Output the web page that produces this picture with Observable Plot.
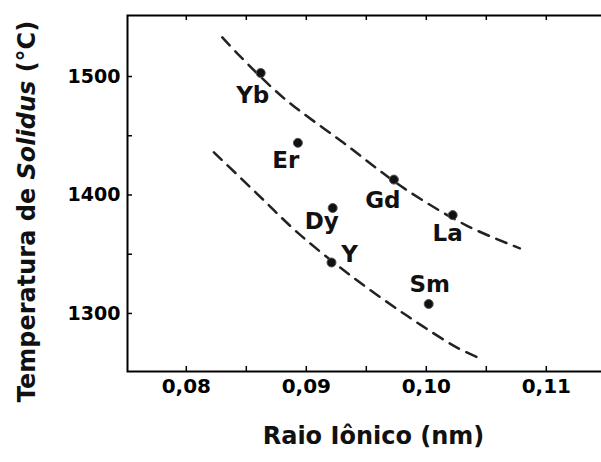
<!DOCTYPE html>
<html>
<head>
<meta charset="utf-8">
<script src="https://cdn.jsdelivr.net/npm/d3@7"></script>
<script src="https://cdn.jsdelivr.net/npm/@observablehq/plot@0.6"></script>
<style>
  html, body { margin: 0; padding: 0; background: #fff; }
  #chart { width: 601px; height: 462px; overflow: hidden; }
</style>
</head>
<body>
<div id="chart"></div>
<script>
// ---- data ----
const elements = ["Yb", "Er", "Gd", "La", "Dy", "Y", "Sm"];
const ionicRadius = [0.0862, 0.0893, 0.0973, 0.1022, 0.0922, 0.0921, 0.1002];
const solidusTemp = [1503, 1444, 1413, 1383, 1389, 1343, 1308];

const upperTrendX = [0.0830, 0.0843, 0.0881, 0.0931, 0.0981, 0.1034, 0.1078];
const upperTrendY = [1533, 1519, 1482, 1444, 1406, 1374, 1355];
const lowerTrendX = [0.0823, 0.0859, 0.0893, 0.0937, 0.0984, 0.1026, 0.1045];
const lowerTrendY = [1436, 1401, 1368, 1332, 1298, 1271, 1262];

const xTickLabels = [0.08, 0.09, 0.10, 0.11];
const xTicksAll = [0.08, 0.085, 0.09, 0.095, 0.10, 0.105, 0.11];
const yTickLabels = [1300, 1400, 1500];
const yTicksAll = [1300, 1350, 1400, 1450, 1500];

const xTitle = "Raio Iônico (nm)";
const yTitle = "Temperatura de Solidus (°C)";

// ---- layout (not data) ----
const labelOffsets = {
  Yb: [-8, 23], Er: [-12, 18], Gd: [-11, 21], La: [-5, 19],
  Dy: [-11, 14], Y: [18, -8], Sm: [1, -19]
};

const points = elements.map((e, i) => ({name: e, x: ionicRadius[i], y: solidusTemp[i]}));
const upper = upperTrendX.map((x, i) => ({x, y: upperTrendY[i]}));
const lower = lowerTrendX.map((x, i) => ({x, y: lowerTrendY[i]}));

const W = 601, H = 462, mL = 127, mR = 0, mT = 15, mB = 91;
const plotW = W - mL - mR, plotH = H - mT - mB;
const FONT = "'DejaVu Sans', sans-serif";

const chart = Plot.plot({
  width: W, height: H,
  marginLeft: mL, marginRight: mR, marginTop: mT, marginBottom: mB,
  x: {domain: [0.0751, 0.1146]},
  y: {domain: [1251, 1551.5]},
  style: {fontFamily: FONT, fontWeight: "bold", background: "white", color: "black", overflow: "hidden"},
  marks: [
    Plot.frame({stroke: "black", strokeWidth: 2, insetRight: -10}),
    Plot.tickX(xTicksAll, {x: d => d, insetTop: plotH - 5, stroke: "black", strokeWidth: 1.5}),
    Plot.tickX(xTicksAll, {x: d => d, insetBottom: plotH - 5, stroke: "black", strokeWidth: 1.5}),
    Plot.tickY(yTicksAll, {y: d => d, insetRight: plotW - 5, stroke: "black", strokeWidth: 1.5}),
    Plot.axisX({ticks: xTickLabels, tickSize: 0, tickPadding: 7, fontSize: 20, label: null,
      tickFormat: d => d.toFixed(2).replace(".", ",")}),
    Plot.axisY({ticks: yTickLabels, tickSize: 0, tickPadding: 7, fontSize: 19, label: null,
      tickFormat: d => String(d)}),
    Plot.line(upper, {x: "x", y: "y", curve: "catmull-rom", stroke: "#222", strokeWidth: 2.5, strokeDasharray: "11,8"}),
    Plot.line(lower, {x: "x", y: "y", curve: "catmull-rom", stroke: "#222", strokeWidth: 2.5, strokeDasharray: "11,8"}),
    Plot.dot(points, {x: "x", y: "y", r: 4.5, fill: "#111", stroke: "#555", strokeWidth: 1}),
    ...elements.map(name => Plot.text(points.filter(p => p.name === name), {
      x: "x", y: "y", text: "name", fontSize: 23, fill: "#111",
      dx: labelOffsets[name][0], dy: labelOffsets[name][1]
    })),
    Plot.text([xTitle], {text: d => d, frameAnchor: "bottom", textAnchor: "middle", dx: 9, dy: 72, fontSize: 24, fill: "#111"}),
    Plot.text([yTitle], {text: d => d, frameAnchor: "left", textAnchor: "middle", lineAnchor: "middle", rotate: -90, dx: -100, dy: 18, fontSize: 24, fill: "#111"})
  ]
});

// italicise "Solidus" in the y title
chart.querySelectorAll("text").forEach(t => {
  if (t.textContent === yTitle) {
    while (t.firstChild) t.removeChild(t.firstChild);
    const ns = "http://www.w3.org/2000/svg";
    const parts = [["Temperatura de ", null], ["Solidus", "italic"], [" (°C)", null]];
    for (const [s, st] of parts) {
      const ts = document.createElementNS(ns, "tspan");
      ts.textContent = s;
      if (st) ts.setAttribute("font-style", st);
      t.appendChild(ts);
    }
  }
});

document.getElementById("chart").appendChild(chart);
</script>
</body>
</html>
